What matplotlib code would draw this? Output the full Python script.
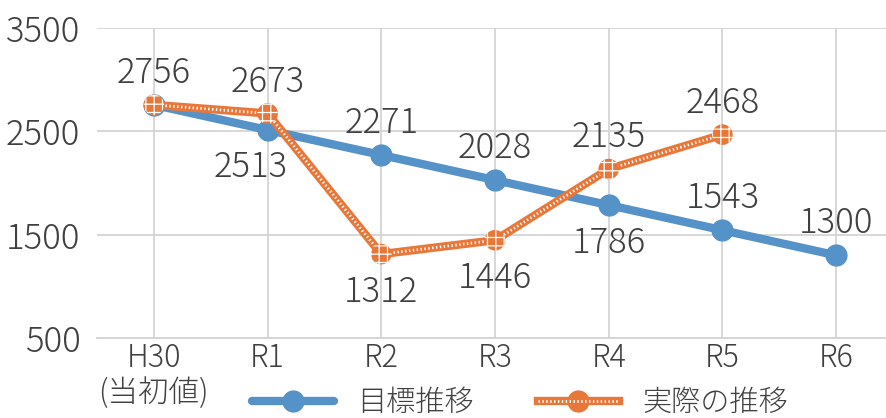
import numpy as np
import matplotlib.pyplot as plt
from matplotlib.lines import Line2D

plt.rcParams['font.family'] = ['Noto Sans CJK JP', 'DejaVu Sans']
plt.rcParams['font.weight'] = 'light'
plt.rcParams['hatch.linewidth'] = 0.9

categories = ['H30\n(当初値)', 'R1', 'R2', 'R3', 'R4', 'R5', 'R6']
target = [2756, 2513, 2271, 2028, 1786, 1543, 1300]
actual = [2756, 2673, 1312, 1446, 2135, 2468]
target_pos = ['above', 'below', 'above', 'above', 'below', 'above', 'above']
actual_pos = ['above', 'above', 'below', 'below', 'above', 'above']
yticks = [500, 1500, 2500, 3500]

blue = '#5592C8'
orange = '#E8773A'
txt = '#404040'
grid = '#D4D4D4'

fig = plt.figure(figsize=(8.87, 4.18), dpi=100)
ax = fig.add_axes([97 / 887, 80 / 418, 796 / 887, 310 / 418])

x = np.arange(len(categories))
xa = np.arange(len(actual))

# target line
ax.plot(x, target, color=blue, lw=6, marker='o', ms=15, zorder=3,
        solid_capstyle='round')

# actual line: orange with white dotted texture
ax.plot(xa, actual, color=orange, lw=6, zorder=4, solid_capstyle='round')
ax.plot(xa, actual, color='white', lw=2.0, ls=(0, (0.5, 0.9)), zorder=5)
ax.scatter(xa, actual, s=220, facecolor=orange, edgecolor='white',
           hatch='++', linewidths=0, zorder=6)

def label(xs, ys, where):
    for xi, yi, w in zip(xs, ys, where):
        off = 23 if w == 'above' else -27
        # 2513 sits a bit left in the original, away from the crossing lines
        dx = -12 if (w == 'below' and xi == 1) else 0
        ax.annotate(str(yi), (xi, yi), xytext=(dx, off), textcoords='offset points',
                    ha='center', va='center', fontsize=25, color=txt, zorder=7)

label(x[1:], target[1:], target_pos[1:])
label(xa, actual, actual_pos)

ax.set_xlim(-0.5, 6.5)
ax.set_ylim(500, 3500)
ax.set_yticks(yticks)
ax.set_xticks(x)
ax.set_xticklabels(categories, fontsize=22, color=txt, linespacing=1.1)
ax.tick_params(axis='y', labelsize=25, labelcolor=txt, length=0, pad=12)
ax.tick_params(axis='x', length=0, pad=3)
ax.grid(True, color=grid, lw=1.3)
ax.set_axisbelow(True)
for s in ax.spines.values():
    s.set_visible(False)
ax.spines['bottom'].set_visible(True)
ax.spines['bottom'].set_color(grid)
ax.spines['bottom'].set_linewidth(1.3)

h1 = Line2D([], [], color=blue, lw=6, marker='o', ms=15, solid_capstyle='round')
h2a = Line2D([], [], color=orange, lw=6, marker='o', ms=15)
h2b = Line2D([], [], color='white', lw=2.0, ls=(0, (0.5, 0.9)))
fig.legend([h1, (h2a, h2b)], ['目標推移', '実際の推移'], loc='center',
           bbox_to_anchor=(520 / 887, 1 - 403 / 418), ncol=2, frameon=False,
           fontsize=21, labelcolor=txt, handlelength=2.8, columnspacing=2.2,
           handletextpad=0.8)

fig.savefig('out.png', dpi=100)
